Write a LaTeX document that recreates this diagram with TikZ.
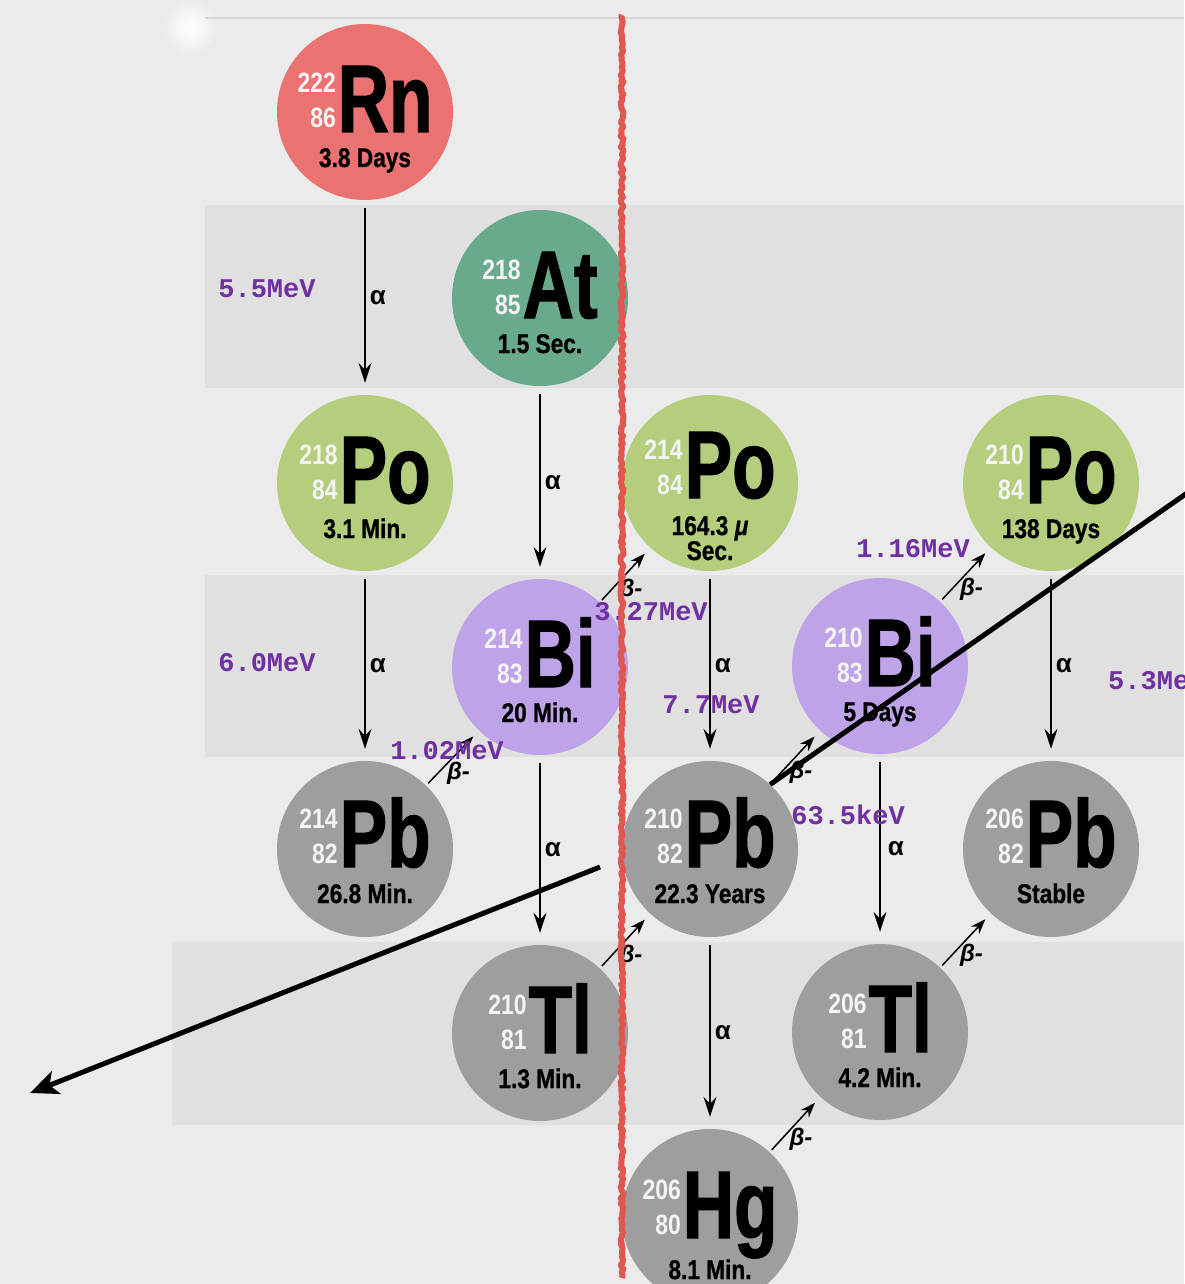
\documentclass[tikz,border=0pt]{standalone}
\usepackage{fontspec}
\setmainfont{Liberation Sans}
\newfontfamily\elemfont[FakeStretch=0.74, FakeBold=1.2]{Liberation Sans}
\newfontfamily\isofont[FakeStretch=0.82]{Liberation Sans}
\newfontfamily\halffont[FakeStretch=0.84, FakeBold=0.8]{Liberation Sans}
\newfontfamily\mevfont{Liberation Mono}
\usepackage{tikz}
\usetikzlibrary{arrows.meta, positioning, decorations.pathmorphing}
\usepackage{xcolor}
\definecolor{bgcol}{RGB}{235, 235, 235}
\definecolor{bandcol}{RGB}{224, 224, 224}
\definecolor{linecol}{RGB}{214, 214, 214}
\definecolor{rncol}{RGB}{234, 114, 112}
\definecolor{atcol}{RGB}{106, 170, 140}
\definecolor{pocol}{RGB}{181, 206, 126}
\definecolor{bicol}{RGB}{191, 163, 232}
\definecolor{grcol}{RGB}{158, 158, 158}
\definecolor{numcol}{RGB}{244, 244, 244}
\definecolor{mevcol}{RGB}{112, 48, 160}
\definecolor{redcol}{RGB}{226, 86, 80}

% mass and atomic number stacked in front of the symbol
\newcommand{\iso}[2]{\raisebox{4pt}{\color{numcol}\isofont\bfseries\fontsize{28}{35}\selectfont\begin{tabular}[b]{@{}r@{}}#1\\#2\end{tabular}}\hspace{2pt}}

\tikzset{
  nuc/.style={circle, minimum size=176pt, inner sep=0pt},
  elem/.style={anchor=base, inner sep=0pt, font=\elemfont\bfseries\fontsize{96}{96}\selectfont},
  half/.style={anchor=base, inner sep=0pt, font=\halffont\bfseries\fontsize{27}{27}\selectfont},
  mev/.style={inner sep=0pt, text=mevcol, font=\mevfont\bfseries\fontsize{27}{27}\selectfont},
  adecay/.style={-{Stealth[length=20pt, width=13pt, inset=7pt]}, line width=1.5pt, shorten <=8pt, shorten >=12pt},
  bdecay/.style={-{Stealth[length=15pt, width=11pt, inset=5pt]}, line width=1.5pt, shorten <=3pt, shorten >=8pt},
  alab/.style={right=3pt, inner sep=1pt, font=\bfseries\fontsize{26}{26}\selectfont},
  blab/.style={below=2pt, xshift=6pt, inner sep=1pt, font=\bfseries\itshape\fontsize{24}{24}\selectfont},
  ray/.style={line width=5pt},
  redline/.style={draw=redcol, line width=6pt, line join=round, decorate, decoration={random steps, segment length=2.5pt, amplitude=1.5pt}}
}

\begin{document}
\begin{tikzpicture}[x=1pt, y=-1pt]
    \useasboundingbox (0,0) rectangle (1184,1284);
    % Background
    \fill[bgcol] (0,0) rectangle (1184,1284);
    \shade[inner color=white, outer color=bgcol] (190,27) circle (28);
    \draw[linecol, line width=2pt] (205,18) -- (1184,18);
    \fill[bandcol] (205,205) rectangle (1184,388);
    \fill[bandcol] (205,575) rectangle (1184,757);
    \fill[bandcol] (172,942) rectangle (1184,1125);

    % Nuclides
    \node[nuc, fill=rncol] (rn) at (365,112) {};
    \node[elem] (rn-el) at ([yshift=-20pt]rn.center) {\iso{222}{86}Rn};
    \node[half] (rn-hl) at ([yshift=-55pt]rn.center) {3.8 Days};

    \node[nuc, fill=atcol] (at) at (540,298) {};
    \node[elem] (at-el) at ([yshift=-20pt]at.center) {\iso{218}{85}At};
    \node[half] (at-hl) at ([yshift=-55pt]at.center) {1.5 Sec.};

    \node[nuc, fill=pocol] (po218) at (365,483) {};
    \node[elem] (po218-el) at ([yshift=-20pt]po218.center) {\iso{218}{84}Po};
    \node[half] (po218-hl) at ([yshift=-55pt]po218.center) {3.1 Min.};

    \node[nuc, fill=pocol] (po214) at (710,483) {};
    \node[elem] (po214-el) at ([yshift=-15pt]po214.center) {\iso{214}{84}Po};
    \node[half] (po214-hl) at ([yshift=-52pt]po214.center) {164.3 \textit{μ}};
    \node[half] (po214-sec) at ([yshift=-77pt]po214.center) {Sec.};

    \node[nuc, fill=pocol] (po210) at (1051,483) {};
    \node[elem] (po210-el) at ([yshift=-20pt]po210.center) {\iso{210}{84}Po};
    \node[half] (po210-hl) at ([yshift=-55pt]po210.center) {138 Days};

    \node[nuc, fill=bicol] (bi214) at (540,667) {};
    \node[elem] (bi214-el) at ([yshift=-20pt]bi214.center) {\iso{214}{83}Bi};
    \node[half] (bi214-hl) at ([yshift=-55pt]bi214.center) {20 Min.};

    \node[nuc, fill=bicol] (bi210) at (880,666) {};
    \node[elem] (bi210-el) at ([yshift=-20pt]bi210.center) {\iso{210}{83}Bi};
    \node[half] (bi210-hl) at ([yshift=-55pt]bi210.center) {5 Days};

    \node[nuc, fill=grcol] (pb214) at (365,849) {};
    \node[elem] (pb214-el) at ([yshift=-18pt]pb214.center) {\iso{214}{82}Pb};
    \node[half] (pb214-hl) at ([yshift=-54pt]pb214.center) {26.8 Min.};

    \node[nuc, fill=grcol] (pb210) at (710,849) {};
    \node[elem] (pb210-el) at ([yshift=-18pt]pb210.center) {\iso{210}{82}Pb};
    \node[half] (pb210-hl) at ([yshift=-54pt]pb210.center) {22.3 Years};

    \node[nuc, fill=grcol] (pb206) at (1051,849) {};
    \node[elem] (pb206-el) at ([yshift=-18pt]pb206.center) {\iso{206}{82}Pb};
    \node[half] (pb206-hl) at ([yshift=-54pt]pb206.center) {Stable};

    \node[nuc, fill=grcol] (tl210) at (540,1033) {};
    \node[elem] (tl210-el) at ([yshift=-20pt]tl210.center) {\iso{210}{81}Tl};
    \node[half] (tl210-hl) at ([yshift=-55pt]tl210.center) {1.3 Min.};

    \node[nuc, fill=grcol] (tl206) at (880,1032) {};
    \node[elem] (tl206-el) at ([yshift=-20pt]tl206.center) {\iso{206}{81}Tl};
    \node[half] (tl206-hl) at ([yshift=-55pt]tl206.center) {4.2 Min.};

    \node[nuc, fill=grcol] (hg206) at (710,1217) {};
    \node[elem] (hg206-el) at ([yshift=-21pt]hg206.center) {\iso{206}{80}Hg};
    \node[half] (hg206-hl) at ([yshift=-62pt]hg206.center) {8.1 Min.};

    % Alpha decays
    \draw[adecay] (rn) -- node[alab] (a-rn) {α} (po218);
    \draw[adecay] (at) -- node[alab] (a-at) {α} (bi214);
    \draw[adecay] (po218) -- node[alab] (a-po218) {α} (pb214);
    \draw[adecay] (po214) -- node[alab] (a-po214) {α} (pb210);
    \draw[adecay] (bi214) -- node[alab] (a-bi214) {α} (tl210);
    \draw[adecay] (bi210) -- node[alab, xshift=3pt] (a-bi210) {α} (tl206);
    \draw[adecay] (po210) -- node[alab] (a-po210) {α} (pb206);
    \draw[adecay] (pb210) -- node[alab] (a-pb210) {α} (hg206);

    % Beta decays
    \draw[bdecay] (pb214) -- node[blab] (b-pb214) {β-} (bi214);
    \draw[bdecay] (bi214) -- node[blab] (b-bi214) {β-} (po214);
    \draw[bdecay] (bi210) -- node[blab] (b-bi210) {β-} (po210);
    \draw[bdecay] (tl210) -- node[blab] (b-tl210) {β-} (pb210);
    \draw[bdecay] (pb210) -- node[blab] (b-pb210) {β-} (bi210);
    \draw[bdecay] (tl206) -- node[blab] (b-tl206) {β-} (pb206);
    \draw[bdecay] (hg206) -- node[blab] (b-hg206) {β-} (tl206);

    % Energies
    \node[mev] (e-rn) at (267,289) {5.5MeV};
    \node[mev] (e-po218) at (267,663) {6.0MeV};
    \node[mev] (e-po214) at (711,705) {7.7MeV};
    \node[mev, anchor=west] (e-po210) at (1108,681) {5.3MeV};
    \node[mev] (e-pb214) at (447,751) {1.02MeV};
    \node[mev] (e-bi214) at (651,612) {3.27MeV};
    \node[mev] (e-bi210) at (913,549) {1.16MeV};
    \node[mev] (e-pb210) at (848,815) {63.5keV};

    % Ray
    \coordinate (rayin) at (1190,491);
    \coordinate (rayout) at (600,867);
    \coordinate (rayend) at (30,1093);
    \draw[ray] (rayin) -- (pb210.47);
    \draw[ray, -{Stealth[length=28pt, width=24pt, inset=7pt]}] (rayout) -- (rayend);

    % Marker line
    \coordinate (redtop) at (622,15);
    \coordinate (redbot) at (622,1278);
    \draw[redline] (redtop) -- (redbot);
\end{tikzpicture}
\end{document}
